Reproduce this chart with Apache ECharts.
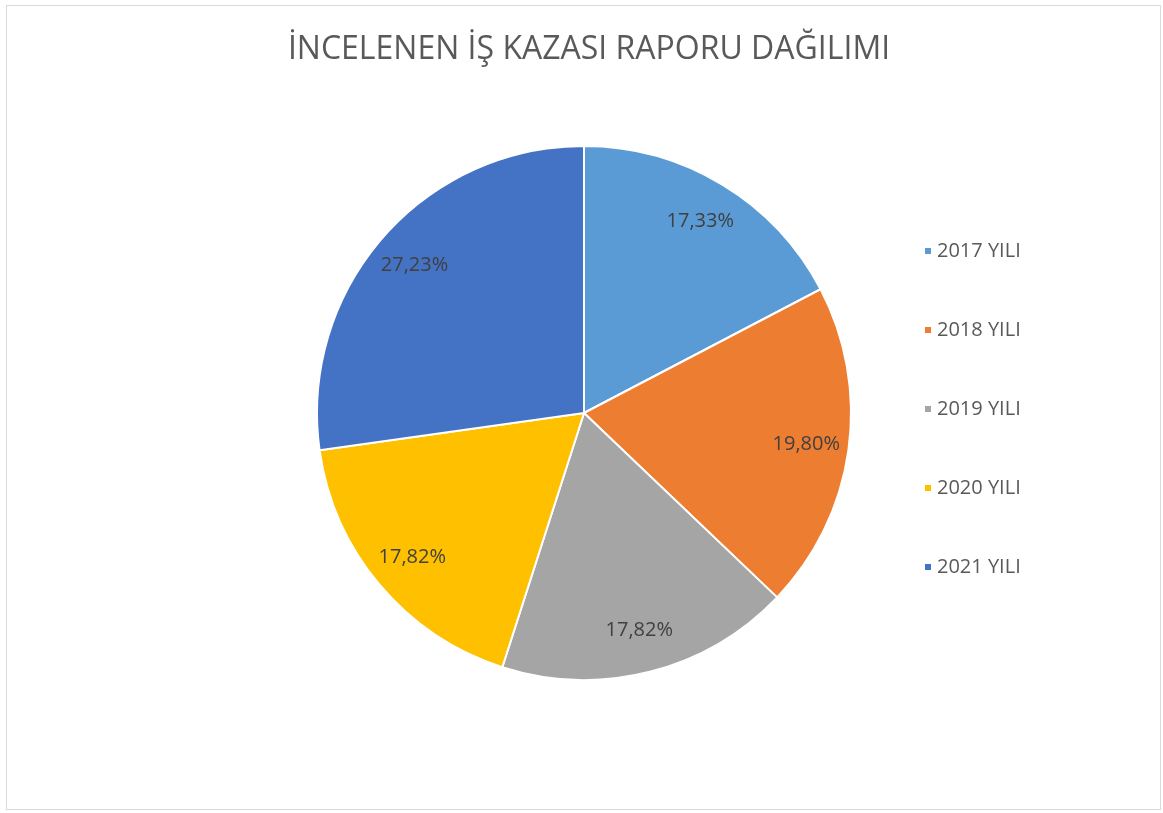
<!DOCTYPE html>
<html>
<head>
<meta charset="utf-8">
<script src="https://cdn.jsdelivr.net/npm/echarts@6/dist/echarts.min.js"></script>
<style>
    html, body { margin: 0; padding: 0; background: #fff; }
    .wrap { position: absolute; left: 6px; top: 5px; width: 1155px; height: 805px; border: 1px solid #d9d9d9; box-sizing: border-box; }
    #chart { width: 1163px; height: 813px; position: absolute; left: -7px; top: -6px; }
</style>
</head>
<body>
<div class="wrap"><div id="chart"></div></div>
<script>
// yıllara göre kaza raporu oranları
const categories = ['2017 YILI', '2018 YILI', '2019 YILI', '2020 YILI', '2021 YILI']
const values = [17.33, 19.80, 17.82, 17.82, 27.23]
const colors = ['#5b9bd5', '#ed7d31', '#a5a5a5', '#ffc000', '#4472c4']

const chart = echarts.init(document.getElementById('chart'))

const pieData = categories.map((name, i) => ({
    name: name,
    value: values[i],
    itemStyle: { color: colors[i] }
}))

const fmt = p => p.value.toFixed(2).replace('.', ',') + '%'

chart.setOption({
    animation: false,
    title: {
        text: 'İNCELENEN İŞ KAZASI RAPORU DAĞILIMI',
        top: 29,
        left: 584,
        textAlign: 'center',
        textStyle: {
            fontFamily: 'Open Sans',
            fontSize: 32,
            fontWeight: 'normal',
            color: '#595959'
        }
    },
    legend: {
        orient: 'vertical',
        left: 918,
        top: 236,
        itemWidth: 8,
        itemHeight: 8,
        itemGap: 59,
        icon: 'rect',
        data: categories,
        textStyle: {
            fontFamily: 'Open Sans',
            fontSize: 20,
            color: '#595959',
            lineHeight: 20
        }
    },
    series: [
        {
            type: 'pie',
            center: [584, 413],
            radius: [0, 267],
            startAngle: 90,
            clockwise: true,
            data: pieData,
            itemStyle: { borderColor: '#fff', borderWidth: 2 },
            label: { show: false },
            labelLine: { show: false },
            emphasis: { disabled: true }
        },
        {
            // sadece etiket konumu için şeffaf halka
            type: 'pie',
            center: [584, 413],
            radius: [176, 267],
            startAngle: 90,
            clockwise: true,
            silent: true,
            data: pieData.map(d => ({ name: d.name, value: d.value })),
            itemStyle: { color: 'rgba(0,0,0,0)', borderWidth: 0 },
            label: {
                show: true,
                position: 'inside',
                formatter: fmt,
                fontFamily: 'Open Sans',
                fontSize: 20,
                color: '#404040'
            },
            labelLine: { show: false },
            emphasis: { disabled: true }
        }
    ]
})
</script>
</body>
</html>
